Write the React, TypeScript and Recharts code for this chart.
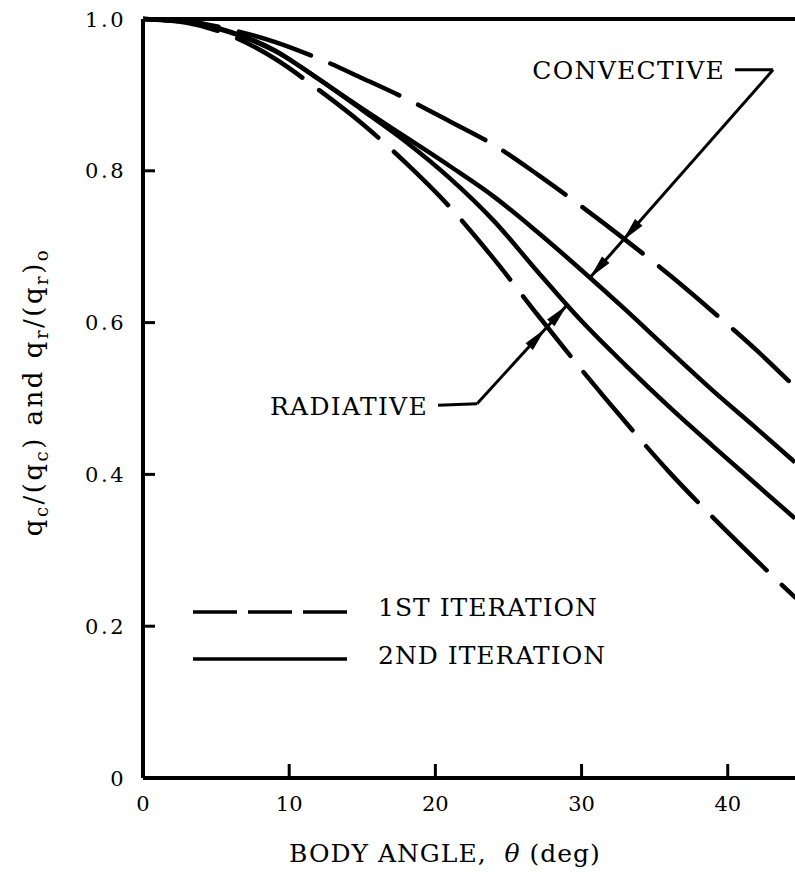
import React from "react";
import { LineChart, Line, XAxis, YAxis, ReferenceLine, Legend } from "recharts";

const SERIF = "'DejaVu Serif', serif";

// body angle, deg
const theta = [0, 3, 6, 9, 12, 15, 18, 21, 24, 27, 30, 33, 36, 39, 42, 44.6];
// convective, 1st and 2nd iteration
const conv1st = [1.0, 0.997, 0.986, 0.97, 0.948, 0.922, 0.895, 0.865, 0.834, 0.795, 0.753, 0.709, 0.663, 0.614, 0.563, 0.515];
const conv2nd = [1.0, 0.996, 0.983, 0.959, 0.921, 0.882, 0.844, 0.806, 0.766, 0.719, 0.669, 0.617, 0.563, 0.51, 0.46, 0.416];
// radiative, 1st and 2nd iteration
const rad1st = [1.0, 0.995, 0.978, 0.948, 0.907, 0.862, 0.81, 0.752, 0.684, 0.61, 0.538, 0.469, 0.403, 0.343, 0.286, 0.238];
const rad2nd = [1.0, 0.996, 0.982, 0.958, 0.921, 0.88, 0.838, 0.79, 0.734, 0.667, 0.602, 0.544, 0.489, 0.437, 0.386, 0.342];

const xTicks = [0, 10, 20, 30, 40];
const yTicks = [0, 0.2, 0.4, 0.6, 0.8, 1.0];

// annotation leaders, in data units (theta, ratio)
const convStub = [{ x: 40.5, y: 0.933 }, { x: 43.1, y: 0.933 }];
const convArrow = [{ x: 43.1, y: 0.933 }, { x: 30.57, y: 0.659 }];
const radStub = [{ x: 20.18, y: 0.491 }, { x: 22.85, y: 0.493 }];
const radArrow = [{ x: 22.85, y: 0.493 }, { x: 29.0, y: 0.623 }];

const data = theta.map((t, i) => ({
  theta: t,
  conv1st: conv1st[i],
  conv2nd: conv2nd[i],
  rad1st: rad1st[i],
  rad2nd: rad2nd[i],
}));

const headPoints = (tx: number, ty: number, ux: number, uy: number, len = 24, half = 5) => {
  const bx = tx - ux * len;
  const by = ty - uy * len;
  return `${tx},${ty} ${bx - uy * half},${by + ux * half} ${bx + uy * half},${by - ux * half}`;
};

const Leader = ({ x1, y1, x2, y2, tips }: any) => {
  const dx = x2 - x1;
  const dy = y2 - y1;
  const len = Math.hypot(dx, dy);
  const ux = dx / len;
  const uy = dy / len;
  return (
    <g>
      <line x1={x1} y1={y1} x2={x2} y2={y2} stroke="#000" strokeWidth={3} />
      {tips.map((t: number) => (
        <polygon key={t} points={headPoints(x1 + dx * t, y1 + dy * t, ux, uy)} fill="#000" />
      ))}
    </g>
  );
};

const Stub = ({ x1, y1, x2, y2, text }: any) => (
  <g>
    <line x1={x1} y1={y1} x2={x2} y2={y2} stroke="#000" strokeWidth={3} />
    <text x={x1 - 10} y={y1 + 9.5} textAnchor="end" fontFamily={SERIF} fontSize={25} letterSpacing={1.3} fill="#000">
      {text}
    </text>
  </g>
);

const XTick = ({ x, y, payload }: any) => (
  <text x={x} y={y} dy="0.71em" textAnchor="middle" fontFamily={SERIF} fontSize={21} fill="#000">
    {payload.value}
  </text>
);

const YTick = ({ x, y, payload }: any) => (
  <text x={x} y={y} dy="0.36em" textAnchor="end" fontFamily={SERIF} fontSize={21} letterSpacing={2.5} fill="#000">
    {payload.value === 0 ? "0" : payload.value.toFixed(1)}
  </text>
);

const XLabel = (props: any) => {
  const vb = props.viewBox || { x: 143, y: 778 };
  return (
    <text x={vb.x + 302} y={vb.y + 84} textAnchor="middle" fontFamily={SERIF} fontSize={25} letterSpacing={1} fill="#000">
      BODY ANGLE,{"\u00a0\u00a0"}
      <tspan fontStyle="italic">θ</tspan> (deg)
    </text>
  );
};

const YLabel = (props: any) => {
  const vb = props.viewBox || { x: 0, y: 19 };
  const cx = vb.x + 42;
  const cy = vb.y + 373;
  const sub = { fontSize: 18 };
  return (
    <text
      x={cx}
      y={cy}
      transform={`rotate(-90 ${cx} ${cy})`}
      textAnchor="middle"
      fontFamily={SERIF}
      fontSize={26}
      letterSpacing={2.5}
      fill="#000"
    >
      q<tspan dy={6} {...sub}>c</tspan>
      <tspan dy={-6}>/(q</tspan>
      <tspan dy={6} {...sub}>c</tspan>
      <tspan dy={-6}>){"\u00a0"}and{"\u00a0"}q</tspan>
      <tspan dy={6} {...sub}>r</tspan>
      <tspan dy={-6}>/(q</tspan>
      <tspan dy={6} {...sub}>r</tspan>
      <tspan dy={-6}>)</tspan>
      <tspan dy={6} {...sub}>o</tspan>
    </text>
  );
};

// legend rows: line sample + label
const IterationLegend = () => (
  <svg width={420} height={90}>
    <line x1={0} y1={22} x2={154} y2={22} stroke="#000" strokeWidth={3.5} strokeDasharray="44 11" />
    <text x={185} y={26} fontFamily={SERIF} fontSize={25} letterSpacing={1} fill="#000">
      1ST ITERATION
    </text>
    <line x1={0} y1={69} x2={154} y2={69} stroke="#000" strokeWidth={3.5} />
    <text x={185} y={74} fontFamily={SERIF} fontSize={25} letterSpacing={1} fill="#000">
      2ND ITERATION
    </text>
  </svg>
);

export default function App() {
  return (
    <div style={{ position: "absolute", left: 0, top: 0, width: 795, height: 876, background: "#fff" }}>
      <LineChart width={795} height={876} data={data} margin={{ top: 19, right: 0, bottom: 0, left: 0 }}>
        <XAxis
          dataKey="theta"
          type="number"
          domain={[0, 44.6]}
          ticks={xTicks}
          interval={0}
          allowDataOverflow
          height={98}
          axisLine={{ stroke: "#000", strokeWidth: 4 }}
          tickLine={{ stroke: "#000", strokeWidth: 3 }}
          tickSize={-14}
          tickMargin={32}
          tick={<XTick />}
          label={{ content: XLabel }}
        />
        <YAxis
          type="number"
          domain={[0, 1]}
          ticks={yTicks}
          interval={0}
          width={143}
          axisLine={{ stroke: "#000", strokeWidth: 4 }}
          tickLine={{ stroke: "#000", strokeWidth: 3 }}
          tickSize={-12}
          tickMargin={29}
          tick={<YTick />}
          label={{ content: YLabel }}
        />
        <ReferenceLine y={1} stroke="#000" strokeWidth={4} />
        <Legend
          layout="horizontal"
          verticalAlign="middle"
          align="center"
          wrapperStyle={{ left: 193, top: 590, width: 420, height: 90 }}
          content={IterationLegend}
        />
        <Line dataKey="conv1st" type="monotone" stroke="#000" strokeWidth={4.5} strokeDasharray="76 21" strokeLinecap="round" dot={false} activeDot={false} isAnimationActive={false} />
        <Line dataKey="conv2nd" type="monotone" stroke="#000" strokeWidth={4.5} dot={false} activeDot={false} isAnimationActive={false} />
        <Line dataKey="rad2nd" type="monotone" stroke="#000" strokeWidth={4.5} dot={false} activeDot={false} isAnimationActive={false} />
        <Line dataKey="rad1st" type="monotone" stroke="#000" strokeWidth={4.5} strokeDasharray="76 21" strokeLinecap="round" dot={false} activeDot={false} isAnimationActive={false} />
        <ReferenceLine segment={convStub} shape={(p: any) => <Stub {...p} text="CONVECTIVE" />} />
        <ReferenceLine segment={convArrow} shape={(p: any) => <Leader {...p} tips={[0.82, 1]} />} />
        <ReferenceLine segment={radStub} shape={(p: any) => <Stub {...p} text="RADIATIVE" />} />
        <ReferenceLine segment={radArrow} shape={(p: any) => <Leader {...p} tips={[0.76, 1]} />} />
      </LineChart>
    </div>
  );
}
